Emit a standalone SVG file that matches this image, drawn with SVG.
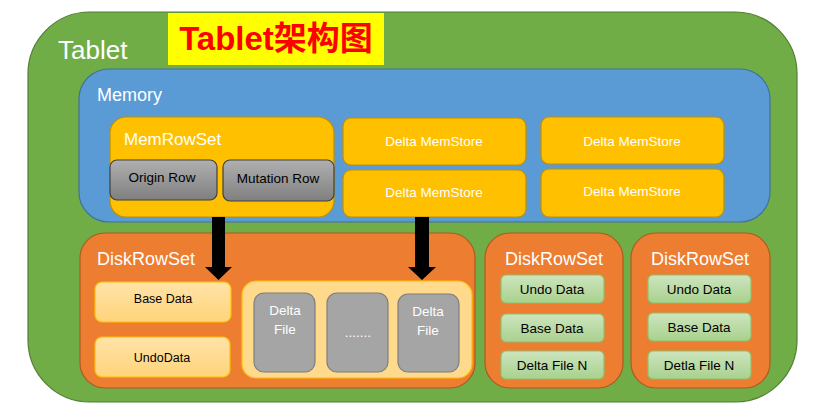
<svg xmlns="http://www.w3.org/2000/svg" width="829" height="412" viewBox="0 0 829 412">
<defs>
<linearGradient id="gGray" x1="0" y1="0" x2="0" y2="1"><stop offset="0" stop-color="#b0b0b0"/><stop offset="1" stop-color="#7f7f7f"/></linearGradient>
<linearGradient id="gGreen" x1="0" y1="0" x2="0" y2="1"><stop offset="0" stop-color="#cde5be"/><stop offset="1" stop-color="#a9d18e"/></linearGradient>
<linearGradient id="gPeach" x1="0" y1="0" x2="0" y2="1"><stop offset="0" stop-color="#ffe3a8"/><stop offset="1" stop-color="#ffd47a"/></linearGradient>
</defs>
<style>
text{font-family:"Liberation Sans","Noto Sans CJK SC",sans-serif}
.w{fill:#ffffff}
.k{fill:#000000}
.ms{fill:#ffc000;stroke:#bf9000;stroke-width:1.2}
.gr{fill:url(#gGray);stroke:#404040;stroke-width:1.2}
.drs{fill:#ed7d31;stroke:#ae5a21;stroke-width:1.2}
.pe{fill:url(#gPeach);stroke:#ffc000;stroke-width:1.2}
.df{fill:#a5a5a5;stroke:#7f7f7f;stroke-width:1.2}
.gb{fill:url(#gGreen);stroke:#8fc06a;stroke-width:1.2}
.s13{font-size:13.5px}
.s12{font-size:12.5px}
</style>
<g id="tablet">
<rect x="28" y="12" width="769" height="390" rx="62" fill="#70ad47" stroke="#507e32" stroke-width="1.2"/>
<text x="58" y="59" class="w" font-size="26" font-family="Noto Sans" font-weight="300">Tablet</text>
</g>
<g id="title">
<rect x="168" y="13" width="216" height="52" fill="#ffff00"/>
<text x="276" y="50" text-anchor="middle" font-size="33" font-weight="bold" fill="#ff0000">Tablet架构图</text>
</g>
<g id="memory">
<rect x="79" y="69" width="691" height="153" rx="30" fill="#5b9bd5" stroke="#41719c" stroke-width="1.2"/>
<text x="97" y="101" class="w" font-size="18">Memory</text>
</g>
<g id="memrowset">
<rect x="110" y="117" width="224" height="100" rx="16" class="ms"/>
<text x="124" y="145" class="w" font-size="17">MemRowSet</text>
</g>
<g id="origin-row">
<rect x="110" y="160" width="107" height="40" rx="7" class="gr"/>
<text x="162" y="182" text-anchor="middle" class="k s13">Origin Row</text>
</g>
<g id="mutation-row">
<rect x="223" y="160" width="111" height="41" rx="7" class="gr"/>
<text x="278" y="183" text-anchor="middle" class="k s13">Mutation Row</text>
</g>
<g id="delta-memstore-1">
<rect x="343" y="118" width="183" height="47" rx="8" class="ms"/>
<text x="434" y="146" text-anchor="middle" class="w s13">Delta MemStore</text>
</g>
<g id="delta-memstore-2">
<rect x="343" y="170" width="183" height="47" rx="8" class="ms"/>
<text x="434" y="197" text-anchor="middle" class="w s13">Delta MemStore</text>
</g>
<g id="delta-memstore-3">
<rect x="541" y="117" width="183" height="47" rx="8" class="ms"/>
<text x="632" y="146" text-anchor="middle" class="w s13">Delta MemStore</text>
</g>
<g id="delta-memstore-4">
<rect x="541" y="169" width="183" height="48" rx="8" class="ms"/>
<text x="632" y="196" text-anchor="middle" class="w s13">Delta MemStore</text>
</g>
<g id="diskrowset-1">
<rect x="80" y="233" width="395" height="155" rx="25" class="drs"/>
<text x="97" y="265" class="w" font-size="18">DiskRowSet</text>
</g>
<g id="base-data-1">
<rect x="95" y="282" width="136" height="40" rx="7" class="pe"/>
<text x="163" y="303" text-anchor="middle" class="k s12">Base Data</text>
</g>
<g id="undodata-1">
<rect x="95" y="337" width="135" height="40" rx="7" class="pe"/>
<text x="162" y="362" text-anchor="middle" class="k s12">UndoData</text>
</g>
<g id="delta-container">
<rect x="242" y="281" width="230" height="97" rx="14" fill="#ffd98c" stroke="#ffc000" stroke-width="1.2"/>
</g>
<g id="delta-file-1">
<rect x="254" y="293" width="61" height="79" rx="10" class="df"/>
<text x="285" y="315" text-anchor="middle" class="w s13">Delta</text>
<text x="285" y="334" text-anchor="middle" class="w s13">File</text>
</g>
<g id="delta-file-dots">
<rect x="327" y="293" width="61" height="79" rx="10" class="df"/>
<text x="358" y="337" text-anchor="middle" class="w s13">.......</text>
</g>
<g id="delta-file-2">
<rect x="398" y="294" width="61" height="78" rx="10" class="df"/>
<text x="428" y="316" text-anchor="middle" class="w s13">Delta</text>
<text x="428" y="335" text-anchor="middle" class="w s13">File</text>
</g>
<g id="diskrowset-2">
<rect x="485" y="233" width="138" height="155" rx="25" class="drs"/>
<text x="554" y="265" text-anchor="middle" class="w" font-size="18">DiskRowSet</text>
</g>
<g id="undo-data-2">
<rect x="501" y="275" width="103" height="28" rx="5" class="gb"/>
<text x="552" y="294" text-anchor="middle" class="k s13">Undo Data</text>
</g>
<g id="base-data-2">
<rect x="501" y="314" width="103" height="28" rx="5" class="gb"/>
<text x="552" y="333" text-anchor="middle" class="k s13">Base Data</text>
</g>
<g id="delta-file-n-2">
<rect x="501" y="351" width="103" height="28" rx="5" class="gb"/>
<text x="552" y="370" text-anchor="middle" class="k s13">Delta File N</text>
</g>
<g id="diskrowset-3">
<rect x="631" y="233" width="139" height="155" rx="25" class="drs"/>
<text x="700" y="265" text-anchor="middle" class="w" font-size="18">DiskRowSet</text>
</g>
<g id="undo-data-3">
<rect x="648" y="275" width="103" height="28" rx="5" class="gb"/>
<text x="699" y="294" text-anchor="middle" class="k s13">Undo Data</text>
</g>
<g id="base-data-3">
<rect x="648" y="313" width="103" height="28" rx="5" class="gb"/>
<text x="699" y="332" text-anchor="middle" class="k s13">Base Data</text>
</g>
<g id="detla-file-n-3">
<rect x="648" y="351" width="103" height="28" rx="5" class="gb"/>
<text x="699" y="370" text-anchor="middle" class="k s13">Detla File N</text>
</g>
<g id="connectors">
<polygon points="212,217 225,217 225,267 232,267 218.5,280 205,267 212,267" fill="#000000"/>
<polygon points="415,217 429,217 429,267 436,267 422,280 408,267 415,267" fill="#000000"/>
</g>
</svg>
